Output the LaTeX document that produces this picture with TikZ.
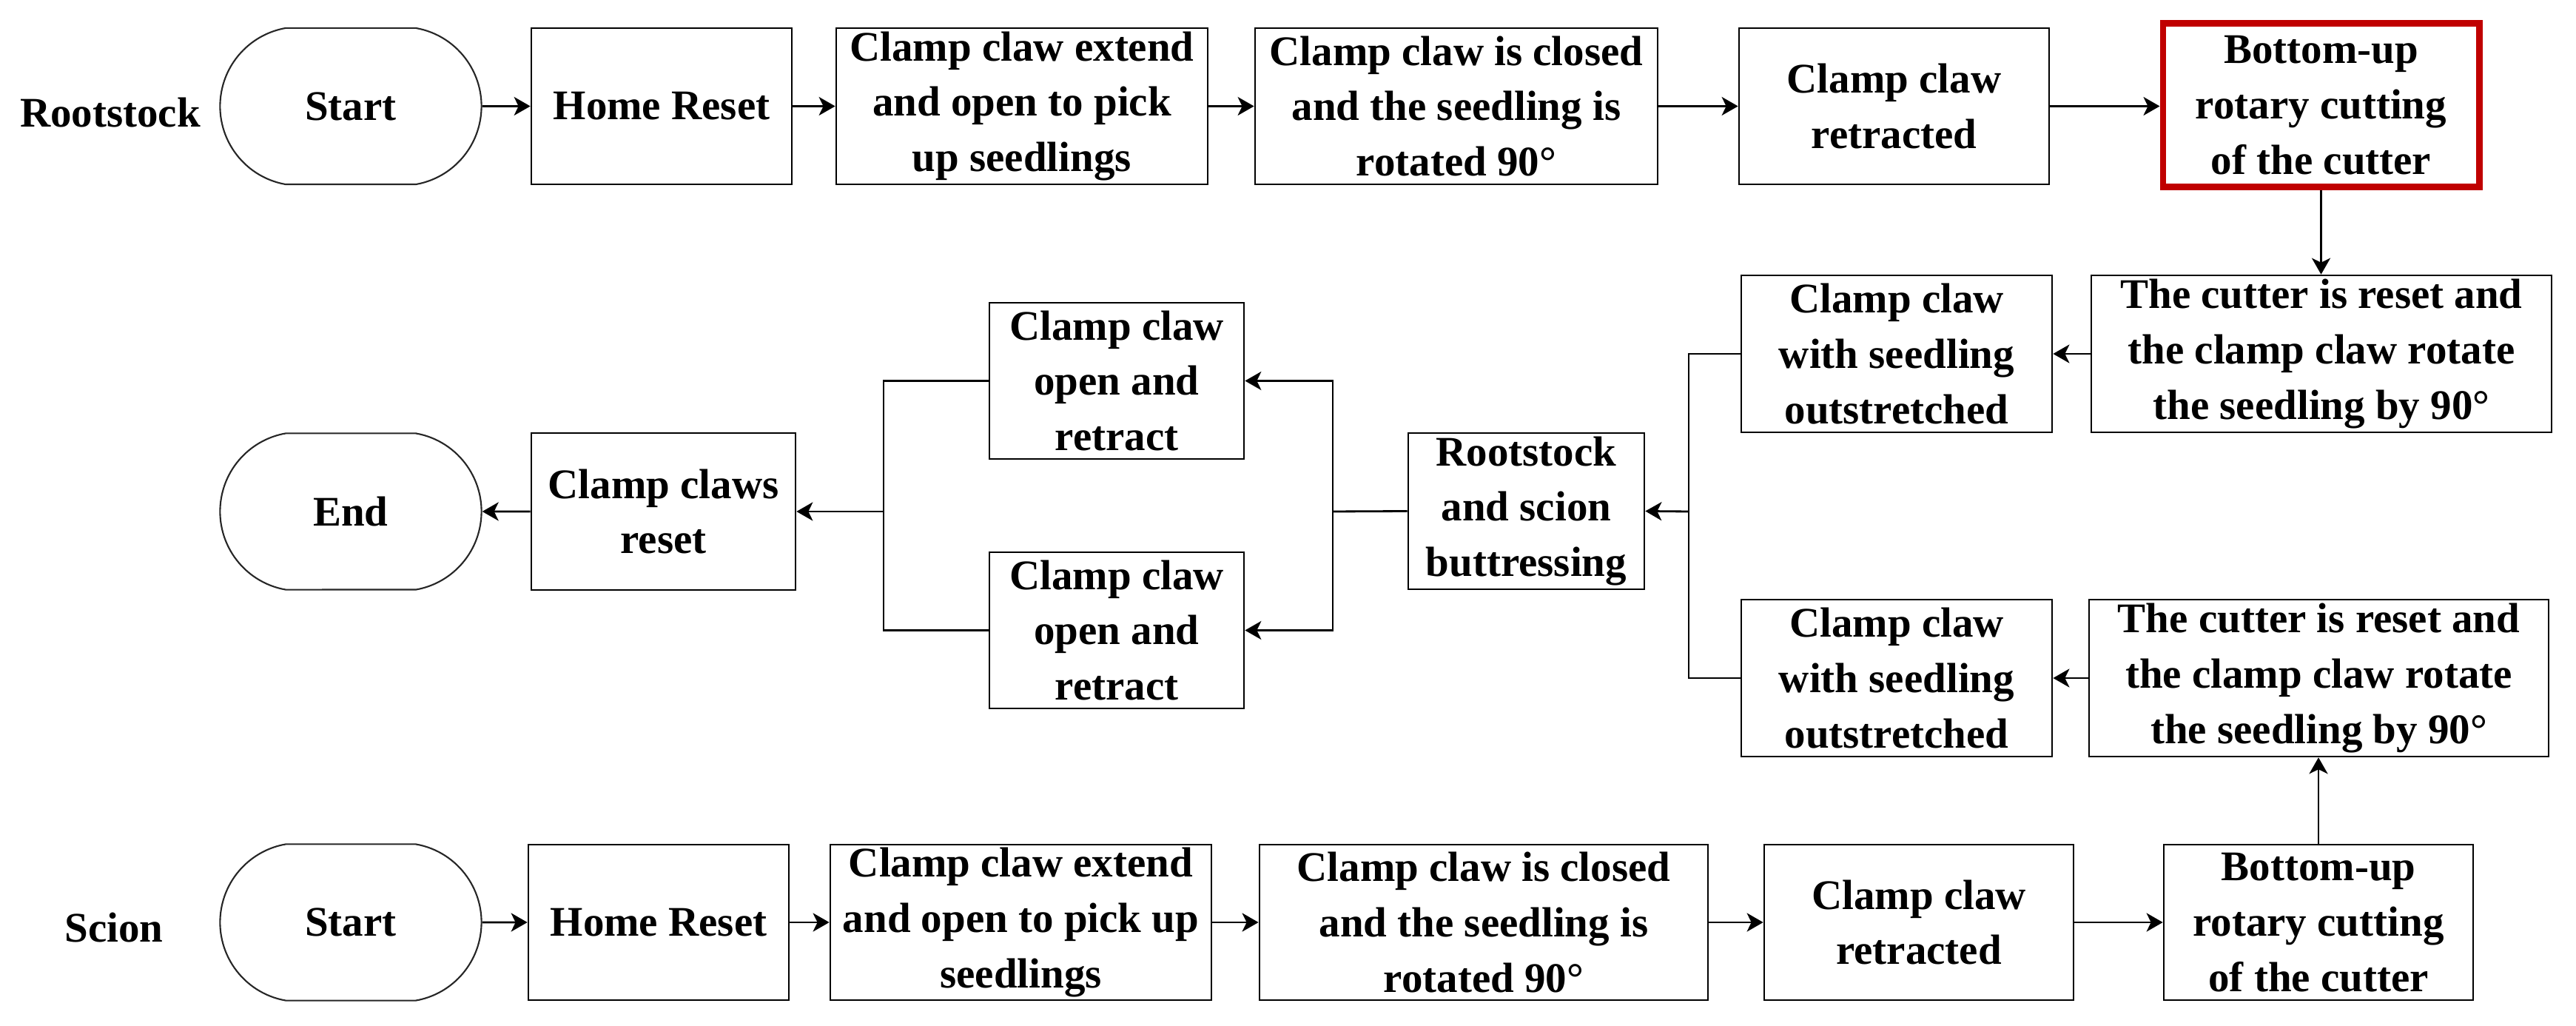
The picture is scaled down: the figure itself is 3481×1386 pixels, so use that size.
\documentclass[tikz,border=0pt]{standalone}
\usepackage{fontspec}
\setmainfont{Liberation Serif}
\usetikzlibrary{arrows.meta,shapes.misc}
\definecolor{darkred}{RGB}{192,0,0}
\begin{document}
\begin{tikzpicture}[x=0.01cm,y=-0.01cm,
  every node/.style={font=\fontsize{16.2pt}{21.3pt}\selectfont\bfseries},
  box/.style={draw, line width=0.7pt, rectangle, inner sep=0pt, align=center, minimum height=2.11cm},
  term/.style={draw=black!85, line width=0.6pt, rounded rectangle, rounded rectangle arc length=160, minimum width=3.53cm, minimum height=2.11cm, inner sep=0pt},
  redbox/.style={box, draw=darkred, line width=2.5pt},
  lbl/.style={inner sep=0pt},
  arr/.style={line width=0.8pt, -{Stealth[length=0.22cm,width=0.25cm,inset=0.06cm]}},
  ln/.style={line width=0.8pt}
]
\useasboundingbox (0,0) rectangle (3481,1386);
% top row
\node[lbl] (lr) at (149,152) {Rootstock};
\node[term] (s1) at (474,143.5) {Start};
\node[box, minimum width=3.52cm] (h1) at (894,143.5) {Home Reset};
\node[box, minimum width=5.02cm] (a1) at (1381,143.5) {Clamp claw extend\\and open to pick\\up seedlings};
\node[box, minimum width=5.44cm] (b1) at (1968,143.5) {Clamp claw is closed\\and the seedling is\\rotated 90°};
\node[box, minimum width=4.19cm] (c1) at (2559.5,143.5) {Clamp claw\\retracted};
\node[redbox, minimum width=4.27cm, minimum height=2.21cm] (d1) at (3136.5,142) {Bottom-up\\rotary cutting\\of the cutter};
% middle
\node[box, minimum width=6.22cm, minimum height=2.12cm] (r1) at (3137,478) {The cutter is reset and\\the clamp claw rotate\\the seedling by 90°};
\node[box, minimum width=4.20cm, minimum height=2.12cm] (o1) at (2563,478) {Clamp claw\\with seedling\\outstretched};
\node[box, minimum width=3.19cm] (bt) at (2062.5,690.5) {Rootstock\\and scion\\buttressing};
\node[box, minimum width=3.44cm] (p1) at (1509,514.5) {Clamp claw\\open and\\retract};
\node[box, minimum width=3.44cm] (p2) at (1509,851.5) {Clamp claw\\open and\\retract};
\node[box, minimum width=3.57cm, minimum height=2.12cm] (cr) at (896.5,691) {Clamp claws\\reset};
\node[term] (en) at (474,691) {End};
\node[box, minimum width=4.20cm, minimum height=2.12cm] (o2) at (2563,916) {Clamp claw\\with seedling\\outstretched};
\node[box, minimum width=6.21cm, minimum height=2.12cm] (r2) at (3133.5,916) {The cutter is reset and\\the clamp claw rotate\\the seedling by 90°};
% bottom row
\node[lbl] (ls) at (154,1253) {Scion};
\node[term] (s2) at (474,1246) {Start};
\node[box, minimum width=3.52cm, minimum height=2.10cm] (h2) at (890,1246) {Home Reset};
\node[box, minimum width=5.15cm, minimum height=2.10cm] (a2) at (1379.5,1246) {Clamp claw extend\\and open to pick up\\seedlings};
\node[box, minimum width=6.06cm, minimum height=2.10cm] (b2) at (2005,1246) {Clamp claw is closed\\and the seedling is\\rotated 90°};
\node[box, minimum width=4.18cm, minimum height=2.10cm] (c2) at (2593,1246) {Clamp claw\\retracted};
\node[box, minimum width=4.18cm, minimum height=2.10cm] (d2) at (3133,1246) {Bottom-up\\rotary cutting\\of the cutter};
% junctions
\coordinate (j) at (2282,691);
\coordinate (k) at (1801,691);
\coordinate (m) at (1194,691);
% top connectors
\draw[arr] (s1) -- (h1);
\draw[arr] (h1) -- (a1);
\draw[arr] (a1) -- (b1);
\draw[arr] (b1) -- (c1);
\draw[arr] (c1.east) -- (c1.east -| d1.west);
\draw[arr] (d1.south) -- (d1.south |- r1.north);
\draw[arr] (r1) -- (o1);
\draw[ln] (o1.west) -| (j);
\draw[ln] (o2.west) -| (j);
\draw[arr] (j) -- (bt.east);
\draw[ln] (bt.west) -- (k);
\draw[arr] (k) |- (p1.east);
\draw[arr] (k) |- (p2.east);
\draw[ln] (p1.west) -| (m);
\draw[ln] (p2.west) -| (m);
\draw[arr] (m) -- (cr.east);
\draw[arr] (cr) -- (en);
% bottom connectors
\draw[arr] (s2) -- (h2);
\draw[arr] (h2) -- (a2);
\draw[arr] (a2) -- (b2);
\draw[arr] (b2) -- (c2);
\draw[arr] (c2) -- (d2);
\draw[arr] (d2.north) -- (d2.north |- r2.south);
\draw[arr] (r2) -- (o2);
\end{tikzpicture}
\end{document}
